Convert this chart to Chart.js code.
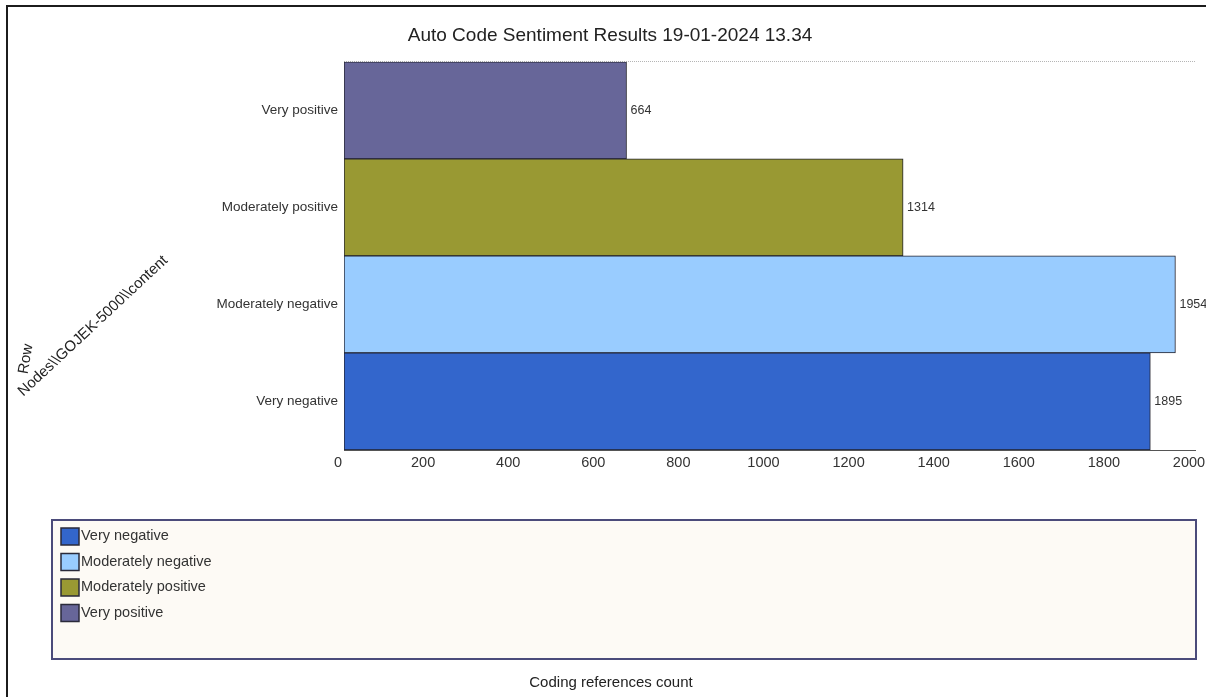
<!DOCTYPE html>
<html>
<head>
<meta charset="utf-8">
<script src="https://cdn.jsdelivr.net/npm/chart.js@4.4.1/dist/chart.umd.min.js"></script>
<style>
  html, body { margin: 0; padding: 0; background: #fff; }
  #wrap { position: relative; width: 1206px; height: 697px; overflow: hidden; }
  #moldura { position: absolute; left: 6px; top: 5px; right: -4px; bottom: -4px;
             border-left: 2px solid #1c1c1c; border-top: 2px solid #1c1c1c; pointer-events: none; }
  canvas { position: absolute; left: 0; top: 0; }
</style>
</head>
<body>
<div id="wrap">
  <canvas id="grafico" width="1206" height="697"></canvas>
  <div id="moldura"></div>
</div>
<script>
  const categorias = ['Very positive', 'Moderately positive', 'Moderately negative', 'Very negative'];
  const contagens = [664, 1314, 1954, 1895];
  const cores = ['#676699', '#999933', '#99ccff', '#3366cc'];
  const eixoMin = 0, eixoMax = 2000, eixoPasso = 200;

  const titulo = 'Auto Code Sentiment Results 19-01-2024 13.34';
  const tituloX = 'Coding references count';
  const tituloY = ['Row', 'Nodes\\\\GOJEK-5000\\\\content'];

  const fonte = '"Liberation Sans", Arial, sans-serif';

  // rotulos, legenda e titulos dos eixos desenhados a mao
  const extras = {
    id: 'extras',
    afterDatasetsDraw(chart) {
      const ctx = chart.ctx;
      const meta = chart.getDatasetMeta(0);
      ctx.save();
      ctx.font = '12.5px ' + fonte;
      ctx.fillStyle = '#333';
      ctx.textBaseline = 'middle';
      ctx.textAlign = 'left';
      meta.data.forEach((bar, i) => ctx.fillText(String(contagens[i]), bar.x + 4, bar.y));
      ctx.restore();
    },
    afterDraw(chart) {
      const ctx = chart.ctx;
      ctx.save();

      // caixa da legenda
      ctx.fillStyle = '#fdfaf5';
      ctx.fillRect(52, 520, 1144, 139);
      ctx.strokeStyle = '#4b4b7a';
      ctx.lineWidth = 2;
      ctx.strokeRect(52, 520, 1144, 139);

      const ordem = categorias.map((c, i) => i).reverse();
      ctx.font = '14.5px ' + fonte;
      ctx.textBaseline = 'middle';
      ctx.textAlign = 'left';
      ordem.forEach((idx, n) => {
        const y = 536 + n * 25.5;
        ctx.fillStyle = cores[idx];
        ctx.fillRect(61, y - 8, 18, 17);
        ctx.strokeStyle = '#2a2a3a';
        ctx.lineWidth = 1.5;
        ctx.strokeRect(61, y - 8, 18, 17);
        ctx.fillStyle = '#333';
        ctx.fillText(categorias[idx], 81, y);
      });

      // titulo do eixo x
      ctx.font = '15px ' + fonte;
      ctx.textAlign = 'center';
      ctx.fillStyle = '#222';
      ctx.fillText(tituloX, 611, 683);

      // titulo do eixo y, inclinado
      ctx.save();
      ctx.translate(26, 359);
      ctx.rotate(-80 * Math.PI / 180);
      ctx.fillText(tituloY[0], 0, 0);
      ctx.restore();
      ctx.save();
      ctx.translate(93, 326);
      ctx.rotate(-43 * Math.PI / 180);
      ctx.fillText(tituloY[1], 0, 0);
      ctx.restore();

      ctx.restore();
    }
  };

  const ctx = document.getElementById('grafico').getContext('2d');
  const chart = new Chart(ctx, {
    type: 'bar',
    data: {
      labels: categorias,
      datasets: [{
        data: contagens,
        backgroundColor: cores,
        borderColor: '#22222e',
        borderWidth: 1,
        borderSkipped: false,
        barPercentage: 1,
        categoryPercentage: 1
      }]
    },
    options: {
      indexAxis: 'y',
      responsive: false,
      animation: false,
      devicePixelRatio: 1,
      layout: { padding: { left: 25, right: 11, top: 0, bottom: 0 } },
      plugins: {
        legend: { display: false },
        tooltip: { enabled: false },
        title: {
          display: true,
          text: titulo,
          color: '#222',
          font: { family: fonte, size: 19, weight: 'normal' },
          padding: { top: 24, bottom: 15 }
        }
      },
      scales: {
        x: {
          min: eixoMin,
          max: eixoMax,
          grid: { display: false },
          border: { display: true, color: '#555', width: 1 },
          ticks: {
            stepSize: eixoPasso,
            maxRotation: 0,
            padding: -4,
            labelOffset: -6,
            color: '#333',
            font: { family: fonte, size: 14.5 },
            callback: v => String(v)
          },
          afterFit(scale) {
            scale.height = 247;
            scale.paddingLeft = 0;
            scale.paddingRight = 0;
          }
        },
        y: {
          grid: {
            drawTicks: false,
            color: c => c.index === 0 ? '#b5b5b5' : 'rgba(0,0,0,0)'
          },
          border: { display: false, dash: [1, 1] },
          ticks: {
            padding: 6,
            color: '#333',
            font: { family: fonte, size: 13.5 }
          },
          afterFit(scale) {
            scale.width = 319;
          }
        }
      }
    },
    plugins: [extras]
  });
</script>
</body>
</html>
